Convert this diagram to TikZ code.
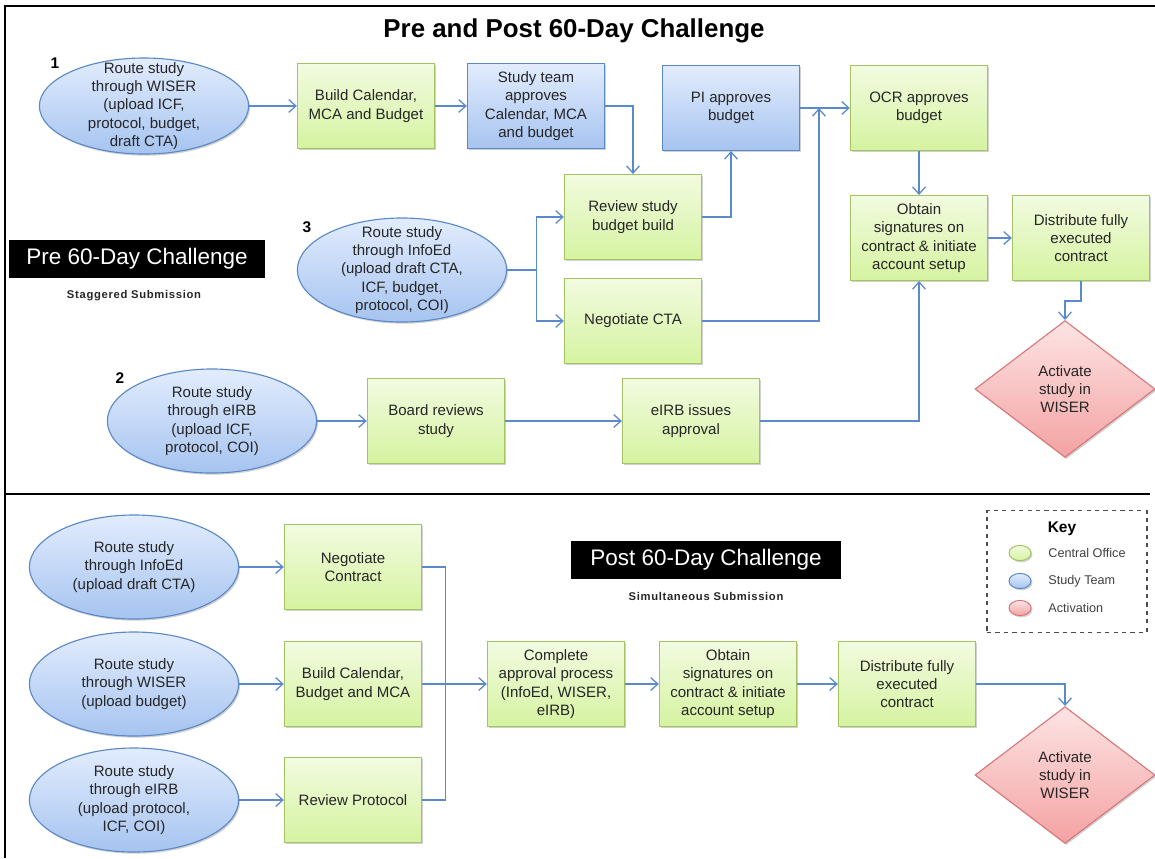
\documentclass[tikz,border=0pt]{standalone}
\usepackage{fontspec}
\setmainfont{Liberation Sans}
\newfontfamily\subfont[LetterSpace=6]{Liberation Sans}
\usepackage{tikz}
\usetikzlibrary{shapes.geometric, arrows.meta, positioning, calc, shadows}
\definecolor{coTop}{HTML}{F2FBE0}
\definecolor{coBot}{HTML}{D5F3A0}
\definecolor{coEdge}{HTML}{A3C465}
\definecolor{stTop}{HTML}{E2ECFD}
\definecolor{stBot}{HTML}{A6C4F0}
\definecolor{stEdge}{HTML}{5B88C6}
\definecolor{acTop}{HTML}{FDE4E4}
\definecolor{acBot}{HTML}{F4A2A2}
\definecolor{acEdge}{HTML}{D8777A}
\definecolor{flowBlue}{HTML}{5A8ACB}
\tikzset{
  box text/.style={
    font=\fontsize{10.7}{13}\selectfont, text=black!85, align=center
  },
  soft shadow/.style={
    drop shadow={shadow xshift=1pt, shadow yshift=-1.2pt, fill=black, opacity=0.18}
  },
  co box/.style={
    rectangle, draw=coEdge, line width=0.8pt,
    top color=coTop, bottom color=coBot,
    minimum width=3.43cm, minimum height=2.12cm,
    inner sep=1pt, box text, soft shadow
  },
  st box/.style={
    co box, draw=stEdge, top color=stTop, bottom color=stBot
  },
  st oval/.style={
    ellipse, draw=stEdge, line width=0.8pt,
    top color=stTop, bottom color=stBot,
    minimum width=5.23cm, minimum height=2.6cm,
    inner sep=0pt, soft shadow,
    label={[box text]center:{#1}}
  },
  act diamond/.style={
    diamond, draw=acEdge, line width=0.8pt,
    top color=acTop, bottom color=acBot,
    minimum width=4.5cm, minimum height=3.42cm,
    aspect=1.3, inner sep=0pt, box text, soft shadow
  },
  flow arrow/.style={
    -{Straight Barb[length=1.8mm, width=3.2mm]}, draw=flowBlue, line width=0.9pt
  },
  flow line/.style={
    draw=flowBlue, line width=0.9pt
  },
  banner/.style={
    fill=black, text=white, font=\fontsize{16}{18}\selectfont,
    minimum height=0.97cm, inner sep=2pt
  },
  sub label/.style={
    font=\subfont\bfseries\fontsize{8}{10}\selectfont, text=black!85
  },
  num label/.style={
    font=\bfseries\fontsize{11}{13}\selectfont
  },
  key dot/.style={
    ellipse, line width=0.7pt, minimum width=0.55cm, minimum height=0.38cm,
    inner sep=0pt, soft shadow
  },
  key text/.style={
    font=\fontsize{9}{11}\selectfont, text=black!75, inner sep=1pt
  },
  frame/.style={
    line width=1.4pt, draw=black
  }
}
\begin{document}
\begin{tikzpicture}[x=0.025cm, y=-0.025cm]
  \useasboundingbox (0,0) rectangle (1155,858);
  \draw[frame] (1155,6) -- (5,6) -- (5,858);
  \draw[frame] (5,494) -- (1150,494);
  \node[font=\bfseries\fontsize{18.4}{21}\selectfont] (ttl) at (574,31) {Pre and Post 60-Day Challenge};

  % Pre 60-Day: staggered submission
  \node[banner, minimum width=6.38cm] (prebn) at (137,259) {Pre 60-Day Challenge};
  \node[sub label] (presub) at (134,296) {Staggered Submission};

  \node[st oval={Route study\\through WISER\\(upload ICF,\\protocol, budget,\\draft CTA)}, minimum height=2.4cm] (ewiser) at (144,106) {};
  \node[num label] (n1) at (55,63) {1};
  \node[co box] (bcal) at (366,106) {Build Calendar,\\MCA and Budget};
  \node[st box] (steam) at (536,106) {Study team\\approves\\Calendar, MCA\\and budget};
  \node[st box] (piapp) at (731,108) {PI approves\\budget};
  \node[co box] (ocrapp) at (919,108) {OCR approves\\budget};
  \node[co box] (rbud) at (633,217) {Review study\\budget build};
  \node[co box] (negcta) at (633,321) {Negotiate CTA};
  \node[st oval={Route study\\through InfoEd\\(upload draft CTA,\\ICF, budget,\\protocol, COI)}] (einfo) at (402,270) {};
  \node[num label] (n3) at (307,227) {3};
  \node[co box] (sign) at (919,238) {Obtain\\signatures on\\contract \& initiate\\account setup};
  \node[co box] (dist) at (1081,238) {Distribute fully\\executed\\contract};
  \node[act diamond] (act) at (1065,389) {Activate\\study in\\WISER};
  \node[st oval={Route study\\through eIRB\\(upload ICF,\\protocol, COI)}] (eirb) at (212,421) {};
  \node[num label] (n2) at (120,378) {2};
  \node[co box] (board) at (436,421) {Board reviews\\study};
  \node[co box] (irbok) at (691,421) {eIRB issues\\approval};
  \coordinate (join) at (819,108);

  \draw[flow arrow] (ewiser) -- (bcal);
  \draw[flow arrow] (bcal) -- (steam);
  \draw[flow arrow] (steam.east) -| (rbud.north);
  \draw[flow arrow] (rbud.east) -| (piapp.south);
  \draw[flow arrow] (piapp) -- (ocrapp);
  \draw[flow arrow] (einfo.east) -- ++(29,0) |- (rbud.west);
  \draw[flow arrow] (einfo.east) -- ++(29,0) |- (negcta.west);
  \draw[flow arrow] (negcta.east) -| (join);
  \draw[flow arrow] (ocrapp) -- (sign);
  \draw[flow arrow] (sign) -- (dist);
  \draw[flow arrow] (dist.south) -- ++(0,20) -| (act.north);
  \draw[flow arrow] (eirb) -- (board);
  \draw[flow arrow] (board) -- (irbok);
  \draw[flow arrow] (irbok.east) -| (sign.south);

  % Post 60-Day: simultaneous submission
  \node[banner, minimum width=6.73cm] (postbn) at (706,560) {Post 60-Day Challenge};
  \node[sub label] (postsub) at (706,596) {Simultaneous Submission};

  \node[st oval={Route study\\through InfoEd\\(upload draft CTA)}] (pinfo) at (134,567) {};
  \node[st oval={Route study\\through WISER\\(upload budget)}] (pwiser) at (134,684) {};
  \node[st oval={Route study\\through eIRB\\(upload protocol,\\ICF, COI)}] (pirb) at (134,800) {};
  \node[co box] (negcon) at (353,567) {Negotiate\\Contract};
  \node[co box] (bcal2) at (353,684) {Build Calendar,\\Budget and MCA};
  \node[co box] (revprot) at (353,800) {Review Protocol};
  \node[co box] (compl) at (556,684) {Complete\\approval process\\(InfoEd, WISER,\\eIRB)};
  \node[co box] (sign2) at (728,684) {Obtain\\signatures on\\contract \& initiate\\account setup};
  \node[co box] (dist2) at (907,684) {Distribute fully\\executed\\contract};
  \node[act diamond] (act2) at (1065,775) {Activate\\study in\\WISER};

  \draw[flow arrow] (pinfo) -- (negcon);
  \draw[flow arrow] (pwiser) -- (bcal2);
  \draw[flow arrow] (pirb) -- (revprot);
  \draw[flow line] (negcon.east) -- ++(23,0) |- (revprot.east);
  \draw[flow arrow] (bcal2) -- (compl);
  \draw[flow arrow] (compl) -- (sign2);
  \draw[flow arrow] (sign2) -- (dist2);
  \draw[flow arrow] (dist2.east) -| (act2.north);

  % Key
  \node[draw=black!70, dashed, line width=0.8pt, minimum width=4cm, minimum height=3.03cm] (keybox) at (1067,571.5) {};
  \node[font=\bfseries\fontsize{11}{13}\selectfont] (keyttl) at (1062,529) {Key};
  \node[key dot, draw=coEdge, top color=coTop, bottom color=coBot] (kco) at (1020,553) {};
  \node[key dot, draw=stEdge, top color=stTop, bottom color=stBot] (kst) at (1020,581) {};
  \node[key dot, draw=acEdge, top color=acTop, bottom color=acBot] (kac) at (1020,608) {};
  \node[key text, right=0.38cm of kco] (lco) {Central Office};
  \node[key text, right=0.38cm of kst] (lst) {Study Team};
  \node[key text, right=0.38cm of kac] (lac) {Activation};
\end{tikzpicture}
\end{document}
